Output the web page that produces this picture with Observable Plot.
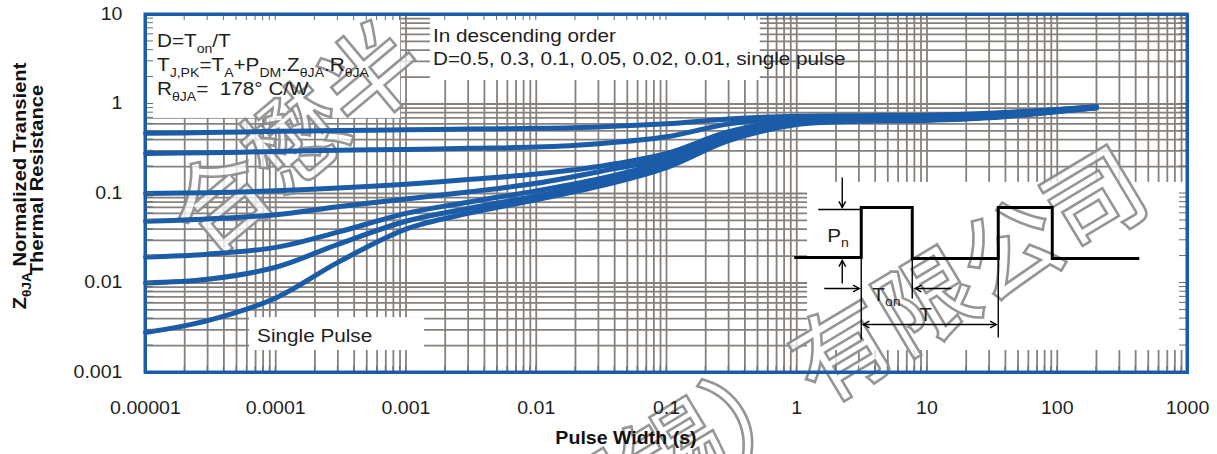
<!DOCTYPE html>
<html>
<head>
<meta charset="utf-8">
<script src="https://cdn.jsdelivr.net/npm/d3@7"></script>
<script src="https://cdn.jsdelivr.net/npm/@observablehq/plot@0.6"></script>
<style>
html,body{margin:0;padding:0;background:#fff;}
#chart svg{display:block;}
</style>
</head>
<body>
<div id="chart"></div>
<script>
// ---------------- data ----------------
const pulseWidth = [1e-5, 3e-5, 1e-4, 3e-4, 1e-3, 3e-3, 1e-2, 3e-2, 0.1, 0.3, 1, 3, 10, 30, 100, 200];
const zD050  = [0.47, 0.48, 0.495, 0.505, 0.515, 0.525, 0.535, 0.555, 0.60, 0.68, 0.73, 0.74, 0.75, 0.79, 0.87, 0.93];
const zD030  = [0.28, 0.285, 0.295, 0.305, 0.31, 0.32, 0.33, 0.36, 0.43, 0.60, 0.71, 0.72, 0.73, 0.77, 0.86, 0.93];
const zD010  = [0.10, 0.102, 0.107, 0.115, 0.127, 0.143, 0.165, 0.20, 0.28, 0.49, 0.67, 0.70, 0.71, 0.75, 0.85, 0.92];
const zD005  = [0.049, 0.052, 0.058, 0.071, 0.087, 0.104, 0.13, 0.175, 0.25, 0.46, 0.645, 0.68, 0.69, 0.74, 0.84, 0.92];
const zD002  = [0.0195, 0.021, 0.025, 0.037, 0.060, 0.080, 0.107, 0.145, 0.23, 0.43, 0.625, 0.665, 0.675, 0.72, 0.83, 0.91];
const zD001  = [0.0100, 0.011, 0.015, 0.027, 0.049, 0.068, 0.094, 0.13, 0.21, 0.41, 0.605, 0.65, 0.665, 0.71, 0.83, 0.91];
const zSingle = [0.0028, 0.0038, 0.0068, 0.017, 0.040, 0.060, 0.085, 0.12, 0.195, 0.39, 0.59, 0.64, 0.655, 0.70, 0.82, 0.91];

const seriesLabels = ["D=0.5", "D=0.3", "D=0.1", "D=0.05", "D=0.02", "D=0.01", "Single Pulse"];
const seriesValues = [zD050, zD030, zD010, zD005, zD002, zD001, zSingle];

const xTicks = [1e-5, 1e-4, 1e-3, 1e-2, 1e-1, 1, 10, 100, 1000];
const xTickLabels = ["0.00001", "0.0001", "0.001", "0.01", "0.1", "1", "10", "100", "1000"];
const yTicks = [0.001, 0.01, 0.1, 1, 10];
const yTickLabels = ["0.001", "0.01", "0.1", "1", "10"];

const xTitle = "Pulse Width (s)";
const yTitle1 = [["Z"], ["θJA", 1], [" Normalized Transient"]];
const yTitle2 = [["Thermal Resistance"]];
const noteFormula = [
  [["D=T"], ["on", 1], ["/T"]],
  [["T"], ["J,PK", 1], ["=T"], ["A", 1], ["+P"], ["DM", 1], ["."], ["Z"], ["θJA", 1], ["."], ["R"], ["θJA", 1]],
  [["R"], ["θJA", 1], ["=\u00a0\u00a0178° C/W"]]
];
const noteOrder = ["In descending order", "D=0.5, 0.3, 0.1, 0.05, 0.02, 0.01, single pulse"];
const noteSingle = "Single Pulse";
const watermarkA = "合懋半";
const watermarkB = "（无锡）有限公司";

// white label panels (data units) that hide the grid
const panels = [
  {x1: 1e-5, x2: 9.1e-4, y1: 0.69, y2: 10},
  {x1: 1.54e-3, x2: 0.525, y1: 1.83, y2: 10},
  {x1: 6.3e-5, x2: 1.39e-3, y1: 0.00176, y2: 0.0041},
  {x1: 1.21, x2: 1000, y1: 0.00176, y2: 0.133}
];

// ---------------- build ----------------
const rows = seriesLabels.flatMap((s, i) => pulseWidth.map((t, j) => ({series: s, t, z: seriesValues[i][j]})));
const minorX = d3.range(-5, 3).flatMap(e => d3.range(1, 10).map(m => m * Math.pow(10, e))).concat([1000]);
const minorY = d3.range(-3, 1).flatMap(e => d3.range(1, 10).map(m => m * Math.pow(10, e))).concat([10]);

const BLUE = "#1b5ca8";
const GRID = "#86817c";
const FONT = "'Liberation Sans', Arial, Helvetica, sans-serif";
const K = 1.12; // horizontal stretch of the reference lettering
const INK = "#1e1e1e";

const chart = Plot.plot({
  width: 1217,
  height: 454,
  marginLeft: 145,
  marginRight: 30,
  marginTop: 14,
  marginBottom: 82,
  x: {type: "log", domain: [1e-5, 1000]},
  y: {type: "log", domain: [0.001, 10]},
  style: {fontFamily: FONT, fontSize: "17.5px", color: INK, background: "#fff", overflow: "visible"},
  marks: [
    Plot.gridX(minorX, {stroke: GRID, strokeOpacity: 1, strokeWidth: 1.8}),
    Plot.gridY(minorY, {stroke: GRID, strokeOpacity: 1, strokeWidth: 1.8}),
    Plot.rect(panels, {x1: "x1", x2: "x2", y1: "y1", y2: "y2", fill: "#fff"}),
    Plot.line(rows, {x: "t", y: "z", z: "series", stroke: BLUE, strokeWidth: 5, curve: "catmull-rom"}),
    Plot.frame({stroke: BLUE, strokeWidth: 3}),
    Plot.axisX({ticks: xTicks, tickFormat: d => xTickLabels[xTicks.indexOf(d)], tickSize: 0, tickPadding: 41, label: null}),
    Plot.axisY({ticks: yTicks, tickFormat: d => yTickLabels[yTicks.indexOf(d)], tickSize: 0, tickPadding: 23, label: null})
  ]
});
document.getElementById("chart").appendChild(chart);

// stretch tick labels horizontally like the reference
function stretch(el, k, dy) {
  const tr = el.getAttribute("transform") || "";
  const x = +el.getAttribute("x") || 0, y = +el.getAttribute("y") || 0;
  el.setAttribute("x", 0); el.setAttribute("y", 0);
  el.setAttribute("transform", `${tr} translate(${x},${y + dy}) scale(${k},1)`);
}
d3.select(chart).selectAll('g[aria-label="x-axis tick label"] text').each(function() { stretch(this, K, 0); });
d3.select(chart).selectAll('g[aria-label="y-axis tick label"] text').each(function() { stretch(this, K, 5); });

const sx = chart.scale("x"), sy = chart.scale("y");
const X = v => sx.apply(v), Y = v => sy.apply(v);
const L = X(1e-5), R = X(1000), T = Y(10), B = Y(0.001);

const svg = d3.select(chart);

// watermark: above grid/panels, below the curves
const lineGroup = svg.select('g[aria-label="line"]').node();
const wm = d3.select(chart.insertBefore(document.createElementNS("http://www.w3.org/2000/svg", "g"), lineGroup));
function watermark(str, cx, cy, angle) {
  wm.append("text")
    .attr("transform", `translate(${cx},${cy}) rotate(${angle})`)
    .attr("font-family", "'Noto Sans CJK SC', sans-serif").attr("font-size", 98).attr("font-weight", 500)
    .attr("fill", "#fff").attr("fill-opacity", 0.75)
    .attr("stroke", "#8a8a8a").attr("stroke-width", 2.6).attr("stroke-opacity", 0.9)
    .attr("dominant-baseline", "central").attr("text-anchor", "start")
    .text(str);
}
watermark(watermarkA, X(1e-5) + 33, Y(0.1) + 34, -40);
watermark(watermarkB, X(0.0316) - 140, Y(0.001) + 200, -31);

const g = svg.append("g");

// small inward ticks on the frame
const tk = g.append("g").attr("stroke", "#6b6b6b").attr("stroke-width", 1);
for (const v of minorX) {
  tk.append("line").attr("x1", X(v)).attr("x2", X(v)).attr("y1", T).attr("y2", T + 6);
  tk.append("line").attr("x1", X(v)).attr("x2", X(v)).attr("y1", B).attr("y2", B - 6);
}
for (const v of minorY) {
  tk.append("line").attr("y1", Y(v)).attr("y2", Y(v)).attr("x1", L).attr("x2", L + 8);
  tk.append("line").attr("y1", Y(v)).attr("y2", Y(v)).attr("x1", R).attr("x2", R - 8);
}
g.append("rect").attr("x", L).attr("y", T).attr("width", R - L).attr("height", B - T)
  .attr("fill", "none").attr("stroke", BLUE).attr("stroke-width", 3);

function rich(parent, px, py, parts, size, opt = {}) {
  const {weight = "normal", anchor = "start", rotate = 0, fill = INK} = opt;
  const t = parent.append("text")
    .attr("transform", `translate(${px},${py}) rotate(${rotate}) scale(${K},1)`)
    .attr("font-family", FONT).attr("font-size", size).attr("font-weight", weight)
    .attr("text-anchor", anchor).attr("fill", fill);
  let shifted = 0;
  for (const [s, sub] of parts) {
    const ts = t.append("tspan").text(s);
    const want = sub ? size * 0.3 : 0;
    if (want !== shifted) { ts.attr("dy", want - shifted); shifted = want; }
    if (sub) ts.attr("font-size", size * 0.68);
  }
  return t;
}

// notes
noteFormula.forEach((parts, i) => rich(g, L + 12, T + 33 + i * 24, parts, 18.5));
noteOrder.forEach((s, i) => rich(g, X(1.54e-3) + 3, T + 28 + i * 23, [[s]], 18.5));
rich(g, X(6.3e-5) + 8, Y(0.0041) + 25, [[noteSingle]], 18.5);

// axis titles
rich(g, (L + R) / 2 - 40, B + 72, [[xTitle]], 17.5, {weight: "bold", anchor: "middle", fill: "#111"});
rich(g, 26, 186, yTitle1, 18, {weight: "bold", anchor: "middle", rotate: -90, fill: "#111"});
rich(g, 43, 180, yTitle2, 18, {weight: "bold", anchor: "middle", rotate: -90, fill: "#111"});

// inset pulse diagram, anchored at (x=1 s, Z=0.1)
const ax = X(1), ay = Y(0.1);
const ins = g.append("g").attr("transform", `translate(${ax},${ay})`).attr("fill", "none").attr("stroke", "#000");
const wave = [[-2, 64.5], [65, 64.5], [65, 14.5], [116, 14.5], [116, 65.5], [202, 65.5], [202, 14.5], [256, 14.5], [256, 65.5], [343, 65.5]];
ins.append("path").attr("d", d3.line()(wave)).attr("stroke-width", 3).attr("stroke-linejoin", "miter");
const thin = [[[22, 16.5], [65, 16.5]], [[65, 64.5], [65, 146.5]], [[116, 65.5], [116, 105.5]], [[202, 65.5], [202, 144.5]]];
thin.forEach(p => ins.append("path").attr("d", d3.line()(p)).attr("stroke-width", 1.4));
function head(x1, y1, x2, y2) {
  const a = Math.atan2(y2 - y1, x2 - x1), h = 7, w = 0.5;
  return d3.line()([[x2 - h * Math.cos(a - w), y2 - h * Math.sin(a - w)], [x2, y2], [x2 - h * Math.cos(a + w), y2 - h * Math.sin(a + w)]]);
}
function arrow(x1, y1, x2, y2, both) {
  ins.append("path").attr("d", d3.line()([[x1, y1], [x2, y2]])).attr("stroke-width", 1.4);
  ins.append("path").attr("d", head(x1, y1, x2, y2)).attr("stroke-width", 1.4);
  if (both) ins.append("path").attr("d", head(x2, y2, x1, y1)).attr("stroke-width", 1.4);
}
arrow(46, -15.5, 46, 14.5);
arrow(46, 90.5, 46, 67.5);
arrow(28, 95.5, 63, 95.5);
arrow(155, 95.5, 119, 95.5);
arrow(67, 131.5, 200, 131.5, true);
rich(g, ax + 31, ay + 48.5, [["P"], ["n", 1]], 18.5);
rich(g, ax + 76, ay + 107.5, [["T"], ["on", 1]], 18.5);
rich(g, ax + 123, ay + 127.5, [["T"]], 18.5);
</script>
</body>
</html>
